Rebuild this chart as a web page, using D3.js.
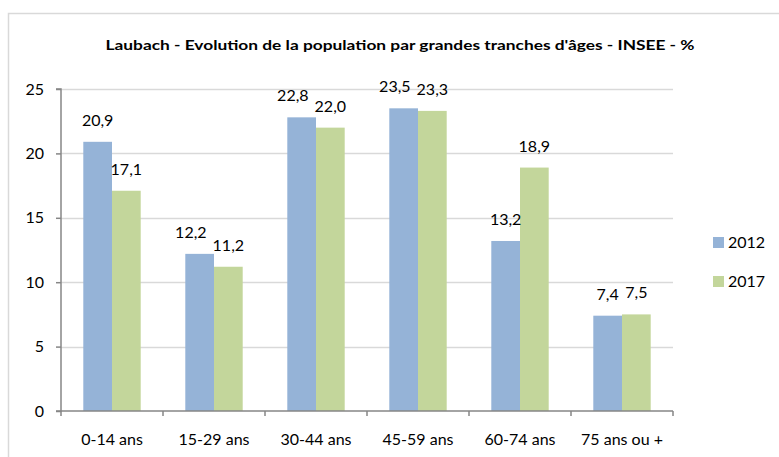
<!DOCTYPE html>
<html>
<head>
<meta charset="utf-8">
<script src="https://cdn.jsdelivr.net/npm/d3@7"></script>
<style>
  body { margin: 0; background: #fff; }
  text { font-family: Lato, "Liberation Sans", sans-serif; fill: #000; }
</style>
</head>
<body>
<div class="chart"></div>
<script>
// data
var categories = ["0-14 ans", "15-29 ans", "30-44 ans", "45-59 ans", "60-74 ans", "75 ans ou +"];
var series = ["2012", "2017"];
var values2012 = [20.9, 12.2, 22.8, 23.5, 13.2, 7.4];
var values2017 = [17.1, 11.2, 22.0, 23.3, 18.9, 7.5];
var yTicks = [0, 5, 10, 15, 20, 25];
var colors = ["#95b3d7", "#c3d69b"];

var W = 779, H = 457;

var rows = categories.map(function(c, i) {
  return {cat: c, vals: [
    {s: 0, v: values2012[i]},
    {s: 1, v: values2017[i]}
  ]};
});

var fmt = function(v) { return d3.format(".1f")(v).replace(".", ","); };

// scales
var x0 = d3.scaleBand()
  .domain(categories)
  .range([61, 673]);
var x1 = d3.scaleBand()
  .domain([0, 1])
  .range([22.3, x0.bandwidth() - 22.3]);
var y = d3.scaleLinear()
  .domain([0, 25])
  .range([411, 89]);

var svg = d3.select(".chart")
  .append("svg")
  .attr("width", W)
  .attr("height", H);

// outer border
svg.append("rect")
  .attr("x", 8.5)
  .attr("y", 13.5)
  .attr("width", 790)
  .attr("height", 470)
  .attr("fill", "none")
  .attr("stroke", "#d9d9d9")
  .attr("stroke-width", 1.5);

// title
svg.append("text")
  .attr("x", 400)
  .attr("y", 50)
  .attr("text-anchor", "middle")
  .style("font-weight", "bold")
  .style("font-size", "14px")
  .attr("textLength", 589)
  .attr("lengthAdjust", "spacingAndGlyphs")
  .text("Laubach - Evolution de la population par grandes tranches d'âges - INSEE - %");

// gridlines
svg.append("g")
  .selectAll("line")
  .data(yTicks.filter(function(t) { return t > 0; }))
  .enter()
  .append("line")
  .attr("x1", 61)
  .attr("x2", 673)
  .attr("y1", function(d) { return Math.round(y(d)) + 0.5; })
  .attr("y2", function(d) { return Math.round(y(d)) + 0.5; })
  .attr("stroke", "#d9d9d9")
  .attr("stroke-width", 1.5);

// bars
var groups = svg.selectAll(".grp")
  .data(rows)
  .enter()
  .append("g")
  .attr("class", "grp")
  .attr("transform", function(d) { return "translate(" + x0(d.cat) + ",0)"; });

groups.selectAll("rect")
  .data(function(d) { return d.vals; })
  .enter()
  .append("rect")
  .attr("x", function(d) { return x1(d.s); })
  .attr("width", x1.bandwidth())
  .attr("y", function(d) { return y(d.v); })
  .attr("height", function(d) { return y(0) - y(d.v); })
  .attr("fill", function(d) { return colors[d.s]; });

// value labels
groups.each(function() {
  var g = d3.select(this);
  var labels = g.selectAll(".val")
    .data(function(d) { return d.vals; })
    .enter()
    .append("text")
    .attr("class", "val")
    .attr("x", function(d) { return x1(d.s) + x1.bandwidth() / 2; })
    .attr("y", function(d) { return y(d.v) - 16; })
    .attr("text-anchor", "middle")
    .style("font-size", "16px")
    .text(function(d) { return fmt(d.v); });
  // push the first label left when it collides with the second
  var n = labels.nodes();
  var a = n[0].getBBox(), b = n[1].getBBox();
  var overlapX = a.x + a.width + 6 - b.x;
  var overlapY = Math.min(a.y + a.height, b.y + b.height) - Math.max(a.y, b.y);
  if (overlapX > 0 && overlapY > 0) {
    d3.select(n[0]).attr("x", +d3.select(n[0]).attr("x") - overlapX);
  }
});

// y axis
var yAxis = svg.append("g")
  .attr("transform", "translate(61,0)")
  .call(d3.axisLeft(y).tickValues(yTicks).tickSize(5).tickPadding(12));
yAxis.selectAll("text").style("font-size", "16px").attr("fill", "#000");

// x axis
var xAxis = svg.append("g")
  .attr("transform", "translate(0,411)")
  .call(d3.axisBottom(x0).tickSize(0).tickPadding(23));
xAxis.selectAll("text").style("font-size", "16px").attr("fill", "#000");
xAxis.selectAll(".tick line").remove();
xAxis.append("g")
  .selectAll("line")
  .data(categories.concat(["end"]))
  .enter()
  .append("line")
  .attr("x1", function(d, i) { return i < categories.length ? x0(d) : x0.range()[1]; })
  .attr("x2", function(d, i) { return i < categories.length ? x0(d) : x0.range()[1]; })
  .attr("y1", 0)
  .attr("y2", 5)
  .attr("stroke", "#868686")
  .attr("stroke-width", 1.5);

svg.selectAll(".domain")
  .attr("stroke", "#868686")
  .attr("stroke-width", 1.5);
yAxis.selectAll(".tick line").attr("stroke", "#868686").attr("stroke-width", 1.5);
yAxis.select(".domain").attr("d", "M-5," + y(25) + "H0V" + y(0) + "H-5");
xAxis.select(".domain").attr("d", "M61,0H673");

// legend
var legend = svg.append("g")
  .selectAll("g")
  .data(series)
  .enter()
  .append("g")
  .attr("transform", function(d, i) { return "translate(713," + (237 + i * 39) + ")"; });
legend.append("rect")
  .attr("width", 11)
  .attr("height", 11)
  .attr("fill", function(d, i) { return colors[i]; });
legend.append("text")
  .attr("x", 15)
  .attr("y", 11)
  .style("font-size", "16px")
  .text(function(d) { return d; });
</script>
</body>
</html>
